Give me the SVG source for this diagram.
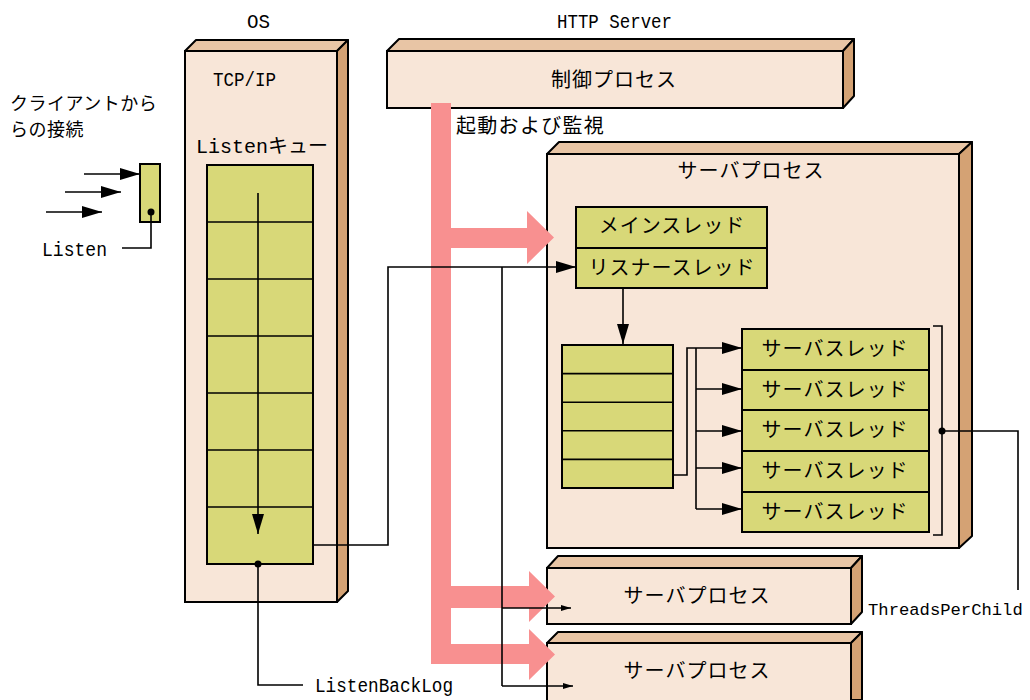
<svg xmlns="http://www.w3.org/2000/svg" width="1030" height="700" viewBox="0 0 1030 700">
<defs>
<style>
text{font-family:"Liberation Mono","Noto Sans CJK JP",monospace;font-size:17.5px;fill:#000}
.lat{font-size:19.5px}
.jp{font-size:20px;letter-spacing:1px}
.front{fill:#F8E6D8;stroke:#000;stroke-width:2}
.top{fill:#E8C5A5;stroke:#000;stroke-width:2;stroke-linejoin:round}
.side{fill:#D4A274;stroke:#000;stroke-width:2;stroke-linejoin:round}
.g{fill:#D8D878;stroke:#000;stroke-width:2}
.ln{fill:none;stroke:#000;stroke-width:1.6}
.pk{fill:#F89090;stroke:none}
</style>
<marker id="ah" viewBox="0 0 10 10" refX="10" refY="5" markerWidth="10" markerHeight="10" markerUnits="userSpaceOnUse" orient="auto"><path d="M0,2 L10,5 L0,8 Z" fill="#000"/></marker>
<marker id="ahb" viewBox="0 0 20 12" refX="20" refY="6" markerWidth="20" markerHeight="12" markerUnits="userSpaceOnUse" orient="auto"><path d="M0,0 L20,6 L0,12 Z" fill="#000"/></marker>
</defs>
<rect width="1030" height="700" fill="#fff"/>

<text class="lat" x="247" y="28" textLength="23" lengthAdjust="spacingAndGlyphs">OS</text>
<text class="lat" x="557" y="28" textLength="115" lengthAdjust="spacingAndGlyphs">HTTP Server</text>
<text class="jp" x="10" y="110" style="font-size:18px;letter-spacing:0.5px">クライアントから</text>
<text class="jp" x="10" y="136" style="font-size:18px;letter-spacing:0.5px">らの接続</text>

<g id="os">
<path class="top" d="M185,51 L196,40 L348,40 L337,51 Z"/>
<path class="side" d="M337,51 L348,40 L348,591 L337,602 Z"/>
<rect class="front" x="185" y="51" width="152" height="551"/>
<text class="lat" x="213" y="86" textLength="63" lengthAdjust="spacingAndGlyphs">TCP/IP</text>
<text class="jp" x="196" y="153" style="letter-spacing:0">Listenキュー</text>
</g>

<g id="listen-queue">
<rect class="g" x="207" y="165" width="106" height="399"/>
<path class="ln" d="M207,222H313M207,279H313M207,336H313M207,393H313M207,450H313M207,507H313" stroke-width="2"/>
</g>

<g id="listen-socket">
<rect class="g" x="140" y="164" width="20" height="58"/>
<circle cx="151" cy="212" r="3.5" fill="#000"/>
<text class="lat" x="42" y="256" textLength="65" lengthAdjust="spacingAndGlyphs">Listen</text>
</g>

<g id="control-process">
<path class="top" d="M387,51 L399,39 L854,39 L843,51 Z"/>
<path class="side" d="M843,51 L854,39 L854,96 L843,108 Z"/>
<rect class="front" x="387" y="51" width="456" height="57"/>
<text class="jp" x="614" y="87" text-anchor="middle">制御プロセス</text>
</g>

<g id="server-process">
<path class="top" d="M547,154 L559,142 L972,142 L959,154 Z"/>
<path class="side" d="M959,154 L972,142 L972,536 L959,548 Z"/>
<rect class="front" x="547" y="154" width="412" height="394"/>
<text class="jp" x="751" y="178" text-anchor="middle">サーバプロセス</text>
</g>

<g id="main-thread">
<rect class="g" x="576" y="207" width="191" height="41"/>
<text class="jp" x="672" y="233" text-anchor="middle">メインスレッド</text>
</g>
<g id="listener-thread">
<rect class="g" x="576" y="248" width="191" height="40"/>
<text class="jp" x="672" y="275" text-anchor="middle">リスナースレッド</text>
</g>

<g id="thread-queue">
<rect class="g" x="562" y="345" width="111" height="143"/>
<path class="ln" d="M562,373.6H673M562,402.2H673M562,430.8H673M562,459.4H673" stroke-width="2"/>
</g>

<g id="server-threads">
<rect class="g" x="742" y="329" width="187" height="41"/>
<rect class="g" x="742" y="370" width="187" height="40"/>
<rect class="g" x="742" y="410" width="187" height="41"/>
<rect class="g" x="742" y="451" width="187" height="41"/>
<rect class="g" x="742" y="492" width="187" height="40"/>
<text class="jp" x="835" y="356" text-anchor="middle">サーバスレッド</text>
<text class="jp" x="835" y="397" text-anchor="middle">サーバスレッド</text>
<text class="jp" x="835" y="437" text-anchor="middle">サーバスレッド</text>
<text class="jp" x="835" y="478" text-anchor="middle">サーバスレッド</text>
<text class="jp" x="835" y="519" text-anchor="middle">サーバスレッド</text>
</g>

<g id="server-process-2">
<path class="top" d="M547,568 L558,556 L862,556 L851,568 Z"/>
<path class="side" d="M851,568 L862,556 L862,612 L851,624 Z"/>
<rect class="front" x="547" y="568" width="304" height="56"/>
<text class="jp" x="697" y="603" text-anchor="middle">サーバプロセス</text>
</g>
<g id="server-process-3">
<path class="top" d="M547,643 L558,632 L862,632 L851,643 Z"/>
<path class="side" d="M851,643 L862,632 L862,700 L851,700 Z"/>
<rect class="front" x="547" y="643" width="304" height="60"/>
<text class="jp" x="697" y="678" text-anchor="middle">サーバプロセス</text>
</g>

<g id="start-monitor">
<path class="pk" d="M431,103 H451 V228 H527 V211 L554,237.5 L527,264 V248 H451 V586 H529 V571 L555,596.5 L529,622 V608 H451 V644 H529 V629 L555,654.5 L529,680 V664 H431 Z"/>
<text class="jp" x="456" y="133" style="letter-spacing:1.3px">起動および監視</text>
</g>

<g id="connectors">
<line class="ln" x1="84" y1="174" x2="140" y2="174" marker-end="url(#ahb)"/>
<line class="ln" x1="65" y1="192" x2="121" y2="192" marker-end="url(#ahb)"/>
<line class="ln" x1="46" y1="212" x2="102" y2="212" marker-end="url(#ahb)"/>
<path class="ln" d="M151,212 V248 H122"/>
<line class="ln" x1="258" y1="193" x2="258" y2="534" marker-end="url(#ahb)"/>
<circle cx="258" cy="564" r="3.5" fill="#000"/>
<path class="ln" d="M258,564 V685 H303"/>
<text class="lat" x="315" y="692" textLength="138" lengthAdjust="spacingAndGlyphs">ListenBackLog</text>
<path class="ln" d="M313,545 H388 V267 H576" marker-end="url(#ahb)"/>
<path class="ln" d="M502,267 V686"/>
<line class="ln" x1="502" y1="608" x2="571" y2="608" marker-end="url(#ah)"/>
<line class="ln" x1="502" y1="686" x2="573" y2="686" marker-end="url(#ah)"/>
<line class="ln" x1="623" y1="288" x2="623" y2="344" marker-end="url(#ahb)"/>
<path class="ln" d="M673,475 H687 V348 H742" marker-end="url(#ahb)"/>
<path class="ln" d="M696,348 V509"/>
<line class="ln" x1="696" y1="389" x2="742" y2="389" marker-end="url(#ahb)"/>
<line class="ln" x1="696" y1="431" x2="742" y2="431" marker-end="url(#ahb)"/>
<line class="ln" x1="696" y1="468" x2="742" y2="468" marker-end="url(#ahb)"/>
<line class="ln" x1="696" y1="509" x2="742" y2="509" marker-end="url(#ahb)"/>
<path class="ln" d="M933,326 H942 V535 H933"/>
<circle cx="942" cy="431" r="3.5" fill="#000"/>
<path class="ln" d="M942,431 H1018 V590"/>
<text x="868" y="615" style="font-size:17.2px">ThreadsPerChild</text>
</g>
</svg>
